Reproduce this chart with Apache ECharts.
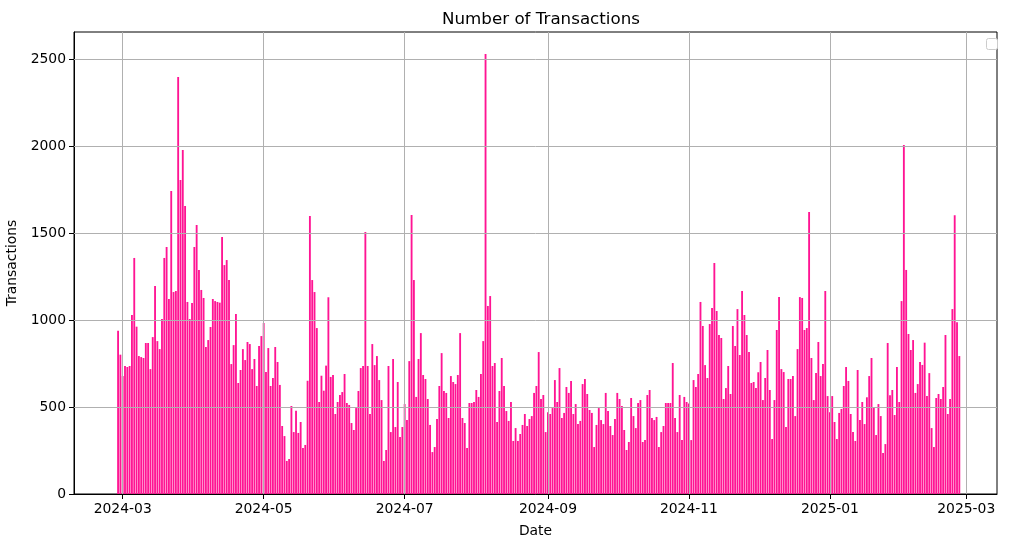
<!DOCTYPE html>
<html>
<head>
<meta charset="utf-8">
<script src="https://cdn.jsdelivr.net/npm/echarts@6/dist/echarts.min.js"></script>
<style>
  html, body { margin: 0; padding: 0; background: #fff; }
  #chart { width: 1014px; height: 547px; }
</style>
</head>
<body>
<div id="chart"></div>
<script>
// daily transaction counts
var feb2024 = [939, 801];  // 28th, 29th
var mar2024 = [678, 736, 730, 736, 1029, 1357, 962, 793, 787, 782, 868, 868, 718, 902, 1196, 879,
               833, 1006, 1357, 1420, 1121, 1742, 1161, 1167, 2397, 1805, 1977, 1655, 1104, 1006, 1098];
var apr2024 = [1420, 1546, 1288, 1173, 1127, 845, 885, 960, 1121, 1109, 1104, 1100, 1477, 1316, 1345,
               1230, 747, 856, 1035, 638, 713, 833, 770, 874, 862, 718, 776, 621, 851, 908];
var may2024 = [983, 701, 839, 621, 667, 845, 759, 627, 391, 333, 190, 201, 506, 356, 479, 351,
               414, 264, 282, 651, 1598, 1230, 1161, 954, 529, 680, 594, 738, 1131, 673, 684];
var jun2024 = [460, 529, 569, 586, 690, 523, 512, 408, 368, 494, 592, 724, 736, 1506, 736,
               460, 862, 741, 793, 655, 540, 190, 253, 736, 356, 776, 385, 644, 328, 385];
var jul2024 = [517, 425, 764, 1604, 1230, 558, 776, 925, 684, 661, 546, 397, 241, 270, 431, 621,
               810, 592, 581, 437, 678, 644, 632, 684, 925, 437, 408, 264, 523, 523, 529];
var aug2024 = [598, 558, 690, 879, 2529, 1081, 1138, 736, 753, 414, 592, 782, 621, 477, 420, 529,
               305, 379, 305, 345, 397, 460, 391, 431, 448, 581, 621, 816, 546, 569, 356];
var sep2024 = [470, 460, 494, 655, 529, 724, 437, 466, 615, 581, 650, 460, 517, 402, 420,
               632, 661, 575, 483, 466, 270, 397, 494, 425, 402, 581, 477, 391, 339, 431];
var oct2024 = [581, 546, 506, 368, 253, 299, 552, 448, 379, 523, 540, 299, 310, 569, 598, 437,
               425, 443, 270, 356, 391, 523, 523, 523, 753, 437, 356, 569, 310, 558, 529];
var nov2024 = [520, 310, 655, 615, 690, 1104, 966, 741, 667, 977, 1069, 1328, 1052, 914, 897,
               546, 609, 736, 575, 966, 851, 1063, 799, 1167, 1029, 914, 816, 638, 644, 609];
var dec2024 = [700, 759, 540, 667, 828, 598, 316, 540, 943, 1132, 718, 701, 385, 661, 661, 678,
               448, 833, 1132, 1127, 943, 954, 1621, 782, 540, 696, 874, 678, 747, 1167, 563];
var jan2025 = [470, 563, 414, 316, 466, 489, 621, 730, 650, 460, 356, 305, 713, 425, 529, 402,
               556, 678, 782, 500, 339, 517, 448, 236, 287, 868, 567, 598, 454, 730, 529];
var feb2025 = [1109, 2006, 1288, 920, 828, 885, 581, 632, 759, 742, 870, 563, 695, 379, 270,
               552, 575, 546, 615, 914, 460, 546, 1063, 1603, 988, 793];

var xTicks = ['2024-03', '2024-05', '2024-07', '2024-09', '2024-11', '2025-01', '2025-03'];
var yTicks = [0, 500, 1000, 1500, 2000, 2500];

var counts = [].concat(feb2024, mar2024, apr2024, may2024, jun2024, jul2024, aug2024,
                       sep2024, oct2024, nov2024, dec2024, jan2025, feb2025);

function day(y, m, d) { return new Date(y, m - 1, d).getTime(); }
function monthTs(s) { var p = s.split('-'); return day(+p[0], +p[1], 1); }

var barData = counts.map(function (v, i) { return [day(2024, 2, 28 + i), v]; });
var xTickTs = xTicks.map(monthTs);
var DAY = 86400000;

var gridLine = { color: '#b0b0b0', width: 1, type: 'solid' };
var markData = xTickTs.map(function (t) { return { xAxis: t }; })
  .concat(yTicks.slice(1).map(function (v) { return { yAxis: v }; }));

var font = 'DejaVu Sans';

var option = {
  animation: false,
  backgroundColor: '#fff',
  title: {
    text: 'Number of Transactions',
    left: 536, top: 6, textAlign: 'center',
    textStyle: { fontFamily: font, fontSize: 16.7, fontWeight: 'normal', color: '#000' }
  },
  grid: {
    left: 74, right: 17, top: 32, bottom: 53,
    outerBoundsMode: 'none', containLabel: false,
    show: true, borderColor: '#000', borderWidth: 1, backgroundColor: '#fff'
  },
  xAxis: {
    type: 'value',
    min: day(2024, 3, 1) - 21.07 * DAY,
    max: day(2024, 3, 1) + 378.3 * DAY,
    name: 'Date', nameLocation: 'middle', nameGap: 30,
    nameTextStyle: { fontFamily: font, fontSize: 13.9, color: '#000' },
    axisLine: { onZero: false, lineStyle: { color: '#000', width: 1 } },
    axisTick: { customValues: xTickTs, length: 5, lineStyle: { color: '#000' } },
    axisLabel: {
      customValues: xTickTs, margin: 8,
      fontFamily: font, fontSize: 13.9, color: '#000',
      formatter: function (val) {
        var d = new Date(val);
        var m = d.getMonth() + 1;
        return d.getFullYear() + '-' + (m < 10 ? '0' + m : m);
      }
    },
    splitLine: { show: false }
  },
  yAxis: {
    type: 'value',
    min: 0, max: 2656, interval: 500,
    name: 'Transactions', nameLocation: 'middle', nameGap: 42,
    nameTextStyle: { fontFamily: font, fontSize: 13.9, color: '#000' },
    axisLine: { show: true, lineStyle: { color: '#000', width: 1 } },
    axisTick: { show: true, customValues: yTicks, length: 5, lineStyle: { color: '#000' } },
    axisLabel: {
      customValues: yTicks, margin: 8, fontFamily: font, fontSize: 13.9, color: '#000',
      formatter: function (v) { return String(v); }
    },
    splitLine: { show: false }
  },
  series: [{
    type: 'bar',
    data: barData,
    barWidth: 1.85,
    itemStyle: { color: '#ff1493' },
    markLine: {
      silent: true,
      symbol: 'none',
      label: { show: false },
      lineStyle: gridLine,
      data: markData
    }
  }],
  graphic: [{
    type: 'rect',
    shape: { x: 986.5, y: 38.5, width: 11, height: 11, r: 2 },
    style: { fill: '#fff', stroke: '#cccccc', lineWidth: 1 }
  }]
};

echarts.init(document.getElementById('chart')).setOption(option);
</script>
</body>
</html>
